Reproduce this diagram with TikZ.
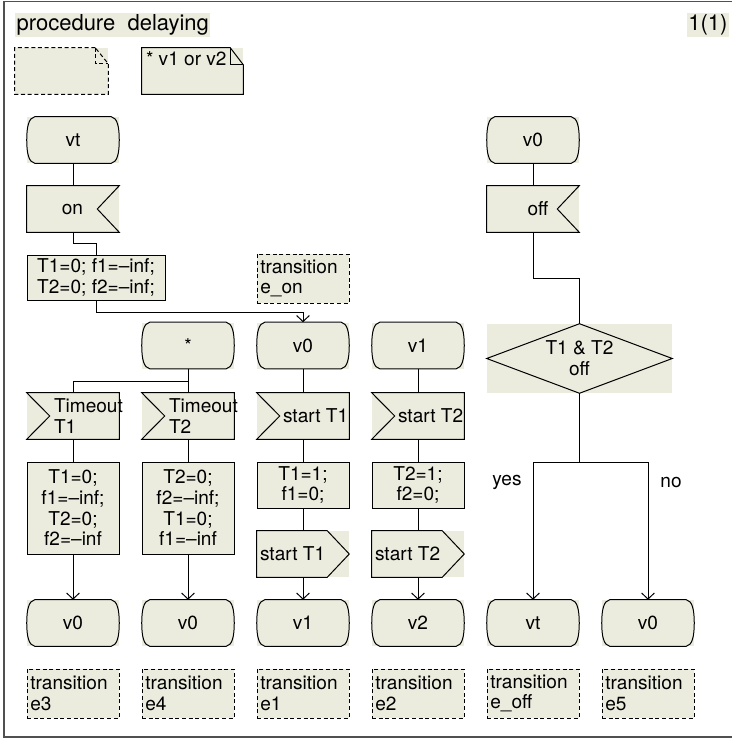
\documentclass[tikz,border=0pt]{standalone}
\usepackage{fontspec}
\setmainfont{TeX Gyre Heros}
\usetikzlibrary{arrows.meta,calc}
\definecolor{bg}{RGB}{235,235,222}
\definecolor{framec}{RGB}{80,80,80}
\newcommand\bodyfont{\fontsize{14.3}{15.5}\selectfont}
\newcommand\titlefont{\fontsize{16.5}{18}\selectfont}
\tikzset{
  ln/.style={line width=0.75pt, black},
  arr/.style={ln, -{Straight Barb[length=4.5pt,width=9.5pt]}},
  fillbox/.style={fill=bg, inner sep=0pt, minimum width=69pt, minimum height=34.5pt, font=\bodyfont, align=center},
  taskbox/.style={fillbox, draw=black, line width=0.75pt},
  commentbox/.style={fillbox, minimum height=36.75pt, text width=64pt, align=left, draw=black, line width=0.75pt, dash pattern=on 3pt off 2pt},
  lbl/.style={inner sep=0pt, font=\bodyfont, align=left},
  dashln/.style={ln, dash pattern=on 3pt off 2pt},
}
\newcommand\StateN[4]{%
  \node[fillbox] (#1) at (#2,#3) {#4};
  \draw[ln] ($(#1.north west)+(8,0)$) -- ($(#1.north east)+(-8,0)$)
    .. controls ($(#1.north east)+(-2,1)$) and ($(#1.north east)+(0,10)$) .. (#1.east)
    .. controls ($(#1.south east)+(0,-10)$) and ($(#1.south east)+(-2,-1)$) .. ($(#1.south east)+(-8,0)$)
    -- ($(#1.south west)+(8,0)$)
    .. controls ($(#1.south west)+(2,-1)$) and ($(#1.south west)+(0,-10)$) .. (#1.west)
    .. controls ($(#1.north west)+(0,10)$) and ($(#1.north west)+(2,1)$) .. cycle;
}
\newcommand\InRight[3]{%
  \node[fillbox] (#1) at (#2,#3) {};
  \draw[ln] (#1.north west) -- (#1.north east) -- ($(#1.east)+(-22,0)$) -- (#1.south east) -- (#1.south west) -- cycle;
}
\newcommand\InLeft[3]{%
  \node[fillbox] (#1) at (#2,#3) {};
  \draw[ln] (#1.north west) -- (#1.north east) -- (#1.south east) -- (#1.south west) -- ($(#1.west)+(23,0)$) -- cycle;
}
\newcommand\OutN[3]{%
  \node[fillbox] (#1) at (#2,#3) {};
  \draw[ln] (#1.north west) -- ($(#1.north east)+(-22,0)$) -- (#1.east) -- ($(#1.south east)+(-22,0)$) -- (#1.south west) -- cycle;
}
\begin{document}
\begin{tikzpicture}[x=0.75pt, y=-0.75pt]
\useasboundingbox (0,0) rectangle (732,740);
% frame
\draw[framec, line width=1.2pt] (732,1.5) -- (4,1.5) -- (4,737) -- (732,737);
% header
\node[fill=bg, inner xsep=1pt, inner ysep=0pt, minimum height=18pt, anchor=west, font=\titlefont] (title) at (15,25) {procedure\ \ delaying};
\node[fill=bg, inner xsep=1pt, inner ysep=0pt, minimum height=18pt, anchor=east, font=\titlefont] (page) at (729,25) {1(1)};
% notes
\node[fillbox, minimum width=69.75pt] (n1) at (61.5,71) {};
\draw[dashln] ($(n1.north east)+(-13,0)$) -- (n1.north west) -- (n1.south west) -- (n1.south east) -- ($(n1.north east)+(0,16)$) -- cycle;
\draw[dashln] ($(n1.north east)+(-13,0)$) -- ($(n1.north east)+(-13,16)$) -- ($(n1.north east)+(0,16)$);
\node[fillbox, minimum width=75.75pt] (n2) at (192.5,71) {};
\draw[ln] ($(n2.north east)+(-13,0)$) -- (n2.north west) -- (n2.south west) -- (n2.south east) -- ($(n2.north east)+(0,17)$) -- cycle;
\draw[ln] ($(n2.north east)+(-13,0)$) -- ($(n2.north east)+(-13,17)$) -- ($(n2.north east)+(0,17)$);
\node[lbl, anchor=north west] (n2t) at ($(n2.north west)+(4,4)$) {* v1 or v2};
% left column top
\StateN{vt}{73}{140}{vt}
\InRight{on}{73}{209}
\node[lbl] (ont) at (72.5,209) {on};
\node[taskbox, minimum width=103.5pt, minimum height=33.75pt] (init) at (96,277.5) {T1=0; f1=–inf;\\T2=0; f2=–inf;};
\node[commentbox] (con) at (303,278.5) {transition\\e\_on};
% middle states
\StateN{star}{188}{345.5}{*}
\StateN{v0m}{303}{345.5}{v0}
\StateN{v1m}{418}{345.5}{v1}
% inputs
\InLeft{to1}{73}{416}
\node[lbl, anchor=west] (to1t) at ($(to1.west)+(27,0)$) {Timeout\\T1};
\InLeft{to2}{188}{416}
\node[lbl, anchor=west] (to2t) at ($(to2.west)+(27,0)$) {Timeout\\T2};
\InLeft{st1}{303}{416}
\node[lbl, anchor=west] (st1t) at ($(st1.west)+(26,0)$) {start T1};
\InLeft{st2}{418}{416}
\node[lbl, anchor=west] (st2t) at ($(st2.west)+(26,0)$) {start T2};
% tasks
\node[taskbox, minimum height=69pt] (ta1) at (73,508) {T1=0;\\f1=–inf;\\T2=0;\\f2=–inf};
\node[taskbox, minimum height=69pt] (ta2) at (188,508) {T2=0;\\f2=–inf;\\T1=0;\\f1=–inf};
\node[taskbox] (ta3) at (303,485) {T1=1;\\f1=0;};
\node[taskbox] (ta4) at (418,485) {T2=1;\\f2=0;};
% outputs
\OutN{out1}{303}{554}
\node[lbl, anchor=west] (out1t) at ($(out1.west)+(3,0)$) {start T1};
\OutN{out2}{418}{554}
\node[lbl, anchor=west] (out2t) at ($(out2.west)+(3,0)$) {start T2};
% right column
\StateN{v0r}{533}{140}{v0}
\InRight{off}{533}{209}
\node[lbl] (offt) at (538,209) {off};
\node[fillbox, minimum width=138.75pt, minimum height=51.75pt] (dia) at (579.5,358.5) {T1 \& T2\\off};
\draw[ln] (dia.north) -- (dia.east) -- (dia.south) -- (dia.west) -- cycle;
\node[lbl] (yes) at (507,482) {yes};
\node[lbl] (no) at (671,482) {no};
% bottom states
\StateN{b1}{73}{623}{v0}
\StateN{b2}{188}{623}{v0}
\StateN{b3}{303}{623}{v1}
\StateN{b4}{418}{623}{v2}
\StateN{b5}{533}{623}{vt}
\StateN{b6}{648}{623}{v0}
% comments
\node[commentbox] (c1) at (73,693.5) {transition\\e3};
\node[commentbox] (c2) at (188,693.5) {transition\\e4};
\node[commentbox] (c3) at (303,693.5) {transition\\e1};
\node[commentbox] (c4) at (418,693.5) {transition\\e2};
\node[commentbox] (c5) at (533,693.5) {transition\\e\_off};
\node[commentbox] (c6) at (648,693.5) {transition\\e5};
% connectors
\draw[ln] (vt.south) -- (on.north);
\draw[ln] (on.south) -- ++(0,11) -| (init.north);
\draw[arr] (init.south) -- ++(0,12) -| (v0m.north);
\draw[ln] (star.south) -- ++(0,12.5) -| (to1.north);
\draw[ln] (star.south) -- (to2.north);
\draw[ln] (to1.south) -- (ta1.north);
\draw[arr] (ta1.south) -- (b1.north);
\draw[ln] (to2.south) -- (ta2.north);
\draw[arr] (ta2.south) -- (b2.north);
\draw[ln] (v0m.south) -- (st1.north);
\draw[ln] (st1.south) -- (ta3.north);
\draw[ln] (ta3.south) -- (out1.north);
\draw[arr] (out1.south) -- (b3.north);
\draw[ln] (v1m.south) -- (st2.north);
\draw[ln] (st2.south) -- (ta4.north);
\draw[ln] (ta4.south) -- (out2.north);
\draw[arr] (out2.south) -- (b4.north);
\draw[ln] (v0r.south) -- (off.north);
\draw[ln] (off.south) -- ++(0,46) -| (dia.north);
\draw[arr] (dia.south) -- ++(0,69) -| (b5.north);
\draw[arr] (dia.south) -- ++(0,69) -| (b6.north);
\end{tikzpicture}
\end{document}
